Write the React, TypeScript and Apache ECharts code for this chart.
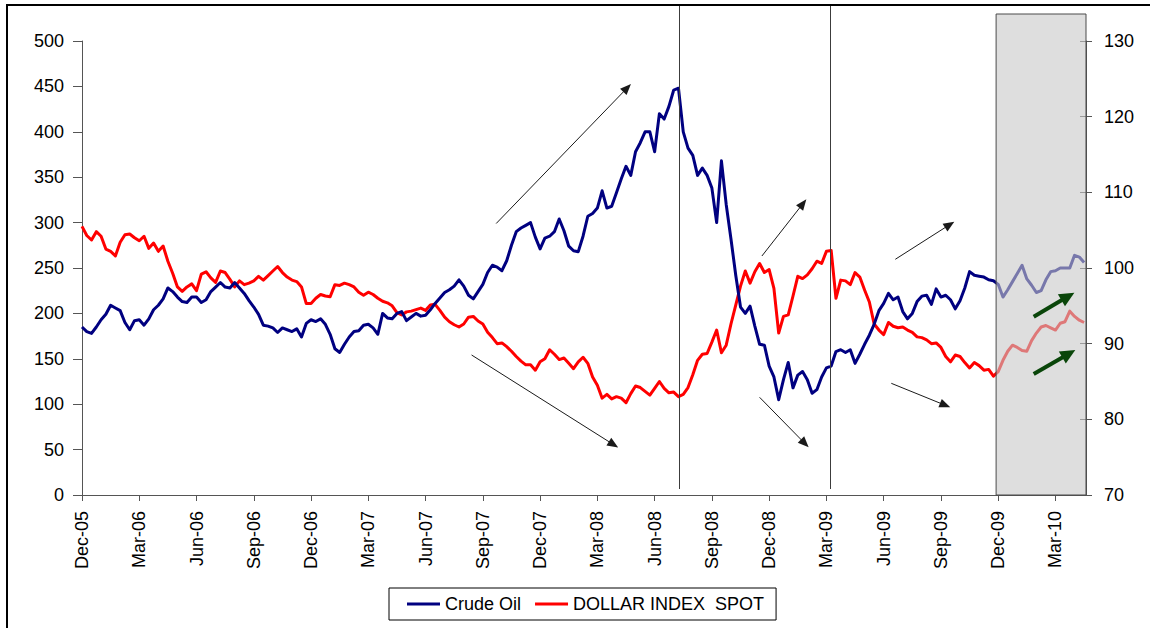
import { useEffect, useRef } from "react";
import * as echarts from "echarts";

// Quarterly tick labels on the month axis (month 0 = Dec-05, one label every 3 months)
const tickLabels = [
  "Dec-05", "Mar-06", "Jun-06", "Sep-06", "Dec-06", "Mar-07", "Jun-07", "Sep-07", "Dec-07",
  "Mar-08", "Jun-08", "Sep-08", "Dec-08", "Mar-09", "Jun-09", "Sep-09", "Dec-09", "Mar-10",
];

// Samples are taken every quarter of a month, starting at Dec-05
const sampleStep = 0.25;
const axisEndMonth = 52.6;

const crudeOil = [
  185, 180, 178, 185, 193, 199, 209, 206, 203, 190,
  182, 192, 193, 187, 194, 204, 209, 216, 228, 224,
  218, 213, 212, 218, 218, 212, 215, 224, 229, 234,
  229, 228, 234, 228, 222, 214, 207, 199, 187, 186,
  184, 179, 184, 182, 180, 183, 174, 189, 193, 191,
  194, 188, 177, 161, 157, 166, 174, 180, 181, 187,
  188, 184, 177, 200, 195, 194, 200, 202, 192, 196,
  200, 197, 198, 204, 211, 217, 223, 226, 230, 237,
  230, 220, 216, 224, 232, 245, 253, 251, 247, 258,
  275, 290, 294, 297, 300, 284, 271, 283, 285, 290,
  304, 291, 274, 269, 268, 285, 307, 310, 316, 335,
  316, 318, 333, 348, 362, 352, 378, 388, 400, 400,
  378, 420, 414, 428, 446, 448, 400, 382, 374, 352,
  360, 352, 338, 300, 368, 320, 282, 242, 207, 200,
  208, 186, 166, 165, 142, 130, 105, 127, 146, 118,
  132, 136, 127, 112, 116, 130, 140, 142, 158, 160,
  157, 160, 145, 155, 166, 176, 188, 203, 211, 222,
  215, 218, 202, 194, 200, 213, 219, 220, 210, 227,
  218, 220, 215, 205, 214, 228, 246, 242, 241, 240,
  237, 236, 232, 218, 226, 235, 244, 253, 238, 231,
  223, 225, 237, 246, 247, 250, 250, 250, 264, 262,
  256,
];

const dollarIndex = [
  105.5, 104.3, 103.7, 104.8, 104.2, 102.5, 102.2, 101.6, 103.4, 104.4,
  104.5, 104.0, 103.6, 104.2, 102.6, 103.3, 102.2, 102.9, 100.9, 99.3,
  97.5, 96.9, 97.5, 97.9, 97.0, 99.2, 99.5, 98.7, 98.1, 99.6,
  99.4, 98.5, 97.5, 98.3, 97.8, 98.0, 98.3, 98.9, 98.4, 99.0,
  99.6, 100.2, 99.4, 98.8, 98.4, 98.2, 97.5, 95.3, 95.3, 96.0,
  96.5, 96.3, 96.2, 97.8, 97.7, 98.0, 97.8, 97.5, 96.8, 96.4,
  96.8, 96.5, 96.0, 95.6, 95.4, 95.0, 94.1, 93.8, 94.2, 94.3,
  94.5, 94.7, 94.4, 95.1, 95.2, 94.4, 93.5, 92.9, 92.5, 92.2,
  92.6, 93.5, 93.6, 93.0, 92.6, 91.5, 90.8, 90.0, 90.1, 89.6,
  89.0, 88.3, 87.7, 87.2, 87.2, 86.5, 87.6, 88.0, 89.2, 88.6,
  87.9, 88.1, 87.4, 86.7, 87.6, 88.2, 87.4, 85.6, 84.5, 82.8,
  83.3, 82.7, 83.0, 82.8, 82.2, 83.4, 84.4, 84.2, 83.7, 83.2,
  84.1, 85.0, 84.1, 83.5, 83.6, 83.0, 83.3, 84.2, 85.9, 87.8,
  88.6, 88.7, 90.2, 91.8, 88.8, 89.8, 92.6, 95.1, 97.6, 99.6,
  98.0, 99.5, 100.6, 99.4, 99.8, 97.3, 91.4, 93.6, 93.8, 96.3,
  98.9, 98.6, 99.1, 99.9, 100.9, 100.6, 102.2, 102.3, 96.0, 98.4,
  98.3, 97.8, 99.4, 98.8, 97.1, 95.5, 92.6, 91.8, 91.2, 92.8,
  92.3, 92.1, 92.2, 91.8, 91.5, 90.9, 90.8, 90.5, 90.0, 90.1,
  89.5, 88.3, 87.6, 88.5, 88.3, 87.5, 86.8, 87.5, 87.1, 86.5,
  86.6, 85.7, 86.3, 87.8, 89.0, 89.8, 89.5, 89.1, 89.0, 90.4,
  91.4, 92.2, 92.4, 92.1, 91.8, 92.7, 92.9, 94.3, 93.6, 93.1,
  92.8,
];

// Event markers (month positions): oil peak and the March 2009 turn
const eventMonths = [31.29, 39.17];
// Start of the shaded outlook window (month position)
const outlookStartMonth = 47.89;

// Trend arrows in data space: [fromMonth, fromValue, toMonth, toValue] on the left axis
const trendArrows = [
  [21.7, 299, 28.76, 452.6],
  [20.41, 154.2, 28.09, 52.3],
  [35.62, 263.2, 37.95, 325.7],
  [35.5, 107.6, 38.07, 52.5],
  [42.61, 259.6, 45.7, 301.0],
  [42.4, 123.0, 45.49, 96.6],
];
const outlookArrows = [
  [49.86, 196.4, 51.99, 222.8],
  [49.86, 133.3, 52.04, 159.7],
];

const FONT = "'Liberation Sans', Arial, Helvetica, sans-serif";
const AXIS_COLOR = "#555";
const LABEL_SIZE = 18;

function arrowElements(
  p0: number[],
  p1: number[],
  color: string,
  width: number,
  headLen: number,
  headHalf: number,
  z: number
) {
  const dx = p1[0] - p0[0];
  const dy = p1[1] - p0[1];
  const len = Math.hypot(dx, dy) || 1;
  const ux = dx / len;
  const uy = dy / len;
  const bx = p1[0] - ux * headLen;
  const by = p1[1] - uy * headLen;
  const nx = -uy;
  const ny = ux;
  return [
    {
      type: "line",
      silent: true,
      z,
      shape: { x1: p0[0], y1: p0[1], x2: bx + ux * 1, y2: by + uy * 1 },
      style: { stroke: color, lineWidth: width, lineCap: "butt" },
    },
    {
      type: "polygon",
      silent: true,
      z,
      shape: {
        points: [
          [p1[0], p1[1]],
          [bx + nx * headHalf, by + ny * headHalf],
          [bx - nx * headHalf, by - ny * headHalf],
        ],
      },
      style: { fill: color },
    },
  ];
}

export default function App() {
  const ref = useRef<HTMLDivElement>(null);

  useEffect(() => {
    if (!ref.current) return;
    const chart = echarts.init(ref.current, undefined, { renderer: "svg" });

    const option = {
      animation: false,
      backgroundColor: "#ffffff",
      textStyle: { fontFamily: FONT },
      grid: { left: 82, right: 64, top: 41, bottom: 133, containLabel: false },
      legend: {
        left: 389,
        top: 588,
        orient: "horizontal",
        padding: [7, 12, 7, 18],
        itemGap: 14,
        itemWidth: 33,
        itemHeight: 3,
        icon: "rect",
        borderColor: "#000",
        borderWidth: 1,
        borderRadius: 0,
        textStyle: { fontSize: LABEL_SIZE, color: "#000", fontFamily: FONT },
        data: ["Crude Oil", "DOLLAR INDEX  SPOT"],
      },
      xAxis: {
        type: "value",
        min: 0,
        max: axisEndMonth,
        interval: 3,
        splitLine: { show: false },
        axisLine: { show: true, lineStyle: { color: AXIS_COLOR, width: 1 } },
        axisTick: { show: true, length: 6, lineStyle: { color: AXIS_COLOR } },
        axisLabel: {
          rotate: 90,
          margin: 16,
          fontSize: LABEL_SIZE,
          color: "#000",
          fontFamily: FONT,
          showMaxLabel: false,
          formatter: (v: number) => {
            const idx = Math.round(v / 3);
            return Math.abs(v - idx * 3) < 1e-6 ? tickLabels[idx] ?? "" : "";
          },
        },
      },
      yAxis: [
        {
          type: "value",
          position: "left",
          min: 0,
          max: 500,
          interval: 50,
          splitLine: { show: false },
          axisLine: { show: true, lineStyle: { color: AXIS_COLOR, width: 1 } },
          axisTick: { show: true, length: 9, lineStyle: { color: AXIS_COLOR } },
          axisLabel: { margin: 18, fontSize: LABEL_SIZE, color: "#000", fontFamily: FONT },
        },
        {
          type: "value",
          position: "right",
          min: 70,
          max: 130,
          interval: 10,
          splitLine: { show: false },
          axisLine: { show: true, lineStyle: { color: AXIS_COLOR, width: 1 } },
          axisTick: { show: true, length: 6, lineStyle: { color: AXIS_COLOR } },
          axisLabel: { margin: 18, fontSize: LABEL_SIZE, color: "#000", fontFamily: FONT },
        },
        {
          // inner half of the cross ticks on the right axis
          type: "value",
          position: "right",
          min: 70,
          max: 130,
          interval: 10,
          splitLine: { show: false },
          axisLine: { show: false },
          axisTick: { show: true, inside: true, length: 6, lineStyle: { color: AXIS_COLOR } },
          axisLabel: { show: false },
        },
      ],
      series: [
        {
          name: "Crude Oil",
          type: "line",
          yAxisIndex: 0,
          showSymbol: false,
          symbol: "none",
          z: 3,
          lineStyle: { color: "#000080", width: 3, join: "round" },
          itemStyle: { color: "#000080" },
          data: crudeOil.map((v, i) => [i * sampleStep, v]),
        },
        {
          name: "DOLLAR INDEX  SPOT",
          type: "line",
          yAxisIndex: 1,
          showSymbol: false,
          symbol: "none",
          z: 2,
          lineStyle: { color: "#ff0000", width: 3, join: "round" },
          itemStyle: { color: "#ff0000" },
          data: dollarIndex.map((v, i) => [i * sampleStep, v]),
        },
      ],
    };

    chart.setOption(option);

    const toPx = (m: number, v: number) =>
      chart.convertToPixel({ xAxisIndex: 0, yAxisIndex: 0 }, [m, v]) as number[];

    const baseY = toPx(0, 0)[1];
    const frameTop = 5;

    const graphics: any[] = [];

    // outer frame
    graphics.push({
      type: "rect",
      silent: true,
      z: 20,
      shape: { x: 7, y: frameTop, width: 1400, height: 900 },
      style: { fill: "none", stroke: "#000", lineWidth: 2 },
    });

    // shaded outlook window, drawn over the series so the lines show through faded
    const shadeLeft = toPx(outlookStartMonth, 0)[0];
    const shadeRight = toPx(axisEndMonth, 0)[0];
    graphics.push({
      type: "rect",
      silent: true,
      z: 10,
      shape: { x: shadeLeft, y: frameTop + 9, width: shadeRight - shadeLeft, height: baseY - frameTop - 9 },
      style: { fill: "rgba(200,200,200,0.6)", stroke: "#4a4a4a", lineWidth: 1 },
    });

    // vertical event markers
    eventMonths.forEach((m) => {
      const x = Math.round(toPx(m, 0)[0]) + 0.5;
      graphics.push({
        type: "line",
        silent: true,
        z: 9,
        shape: { x1: x, y1: frameTop, x2: x, y2: baseY - 6 },
        style: { stroke: "#3c3c3c", lineWidth: 1 },
      });
    });

    trendArrows.forEach((a) => {
      graphics.push(...arrowElements(toPx(a[0], a[1]), toPx(a[2], a[3]), "#1a1a1a", 1, 11, 4.5, 12));
    });
    outlookArrows.forEach((a) => {
      graphics.push(...arrowElements(toPx(a[0], a[1]), toPx(a[2], a[3]), "#0a460a", 4, 15, 7, 12));
    });

    chart.setOption({ graphic: graphics });

    return () => chart.dispose();
  }, []);

  return (
    <div
      ref={ref}
      style={{ position: "fixed", left: 0, top: 0, width: 1150, height: 628, background: "#fff" }}
    />
  );
}
